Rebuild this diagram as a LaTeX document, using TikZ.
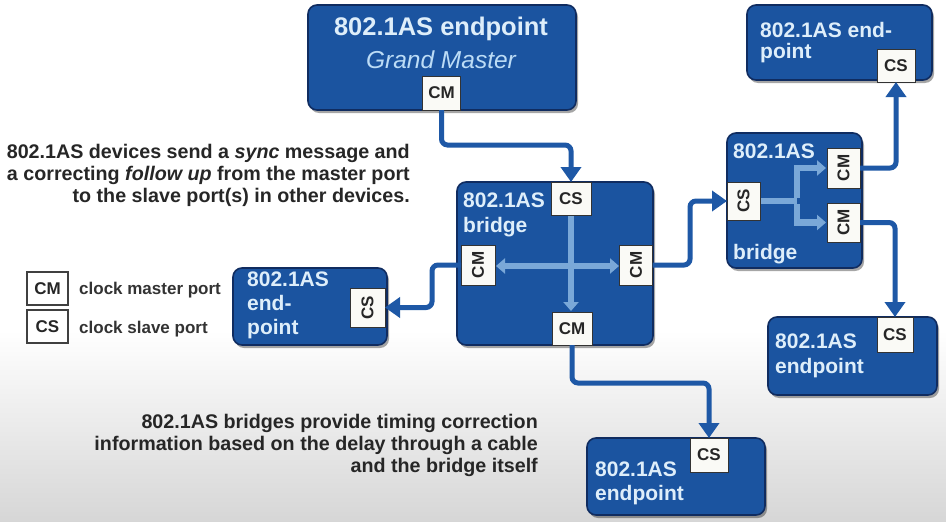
\documentclass[tikz,border=0pt]{standalone}
\usepackage{fontspec}
\setmainfont{Liberation Sans}
\usetikzlibrary{arrows.meta,shadows}
\definecolor{boxblue}{RGB}{27,84,160}
\definecolor{boxedge}{RGB}{16,44,96}
\definecolor{txtlight}{RGB}{222,238,250}
\definecolor{gmital}{RGB}{188,220,246}
\definecolor{connblue}{RGB}{30,88,166}
\definecolor{lightarr}{RGB}{122,168,216}
\definecolor{portwhite}{RGB}{250,250,246}
\newcommand\myfs[2]{\fontsize{#1}{#2}\selectfont}
\tikzset{
  ebox/.style={draw=boxedge, line width=1.6pt, fill=boxblue, rounded corners=9pt,
    inner sep=0pt, outer sep=0pt,
    drop shadow={shadow xshift=2pt, shadow yshift=-3pt, opacity=0.35, fill=black}},
  port/.style={draw=black!80, line width=0.8pt, fill=portwhite, inner sep=0pt, outer sep=0pt,
    font=\myfs{17}{17}\bfseries, text=black!85},
  legbox/.style={draw=black!75, line width=1.3pt, fill=white, inner sep=0pt, outer sep=0pt,
    font=\myfs{17}{17}\bfseries, text=black!85, minimum width=41pt, minimum height=33pt},
  boxtxt/.style={anchor=base west, inner sep=0pt, text=txtlight, font=\myfs{21}{24}\bfseries},
  note/.style={anchor=base east, inner sep=0pt, text=black!85, font=\myfs{19.7}{22}\bfseries},
  legtxt/.style={anchor=base west, inner sep=0pt, text=black!80, font=\myfs{17}{18}\bfseries},
  conn/.style={draw=connblue, line width=5pt, rounded corners=6pt,
    -{Triangle[length=15pt,width=20pt]}},
  inarr/.style={draw=lightarr, line width=6.5pt},
  intip/.style={-{Triangle[length=9pt,width=15pt]}}
}
\begin{document}
\begin{tikzpicture}[x=1pt,y=-1pt]
\useasboundingbox (0,0) rectangle (946,522);
\fill[white] (0,0) rectangle (946,522);
\shade[top color=white, bottom color=black!16] (0,330) rectangle (946,522);

% boxes
\node[ebox, minimum width=268pt, minimum height=105pt] (gm) at (442,57.5) {};
\node[ebox, minimum width=196pt, minimum height=163pt] (br) at (555,263.5) {};
\node[ebox, minimum width=135pt, minimum height=135pt] (rb) at (794.5,200.5) {};
\node[ebox, minimum width=185pt, minimum height=75pt] (tr) at (839.5,42.5) {};
\node[ebox, minimum width=154pt, minimum height=77pt] (le) at (310,306.5) {};
\node[ebox, minimum width=178pt, minimum height=77pt] (be) at (676,476.5) {};
\node[ebox, minimum width=169pt, minimum height=78pt] (bre) at (852.5,356) {};

% internal light arrows
\draw[inarr, {Triangle[length=9pt,width=15pt]}-{Triangle[length=9pt,width=15pt]}] (496,266) -- (619,266);
\draw[inarr, intip] (571,215) -- (571,311);
\coordinate (rj) at (797,201);
\draw[inarr] (760,201) -- (rj);
\draw[inarr, intip] ([yshift=3.25pt]rj) |- (826,168);
\draw[inarr, intip] ([yshift=-3.25pt]rj) |- (826,222.5);

% ports
\node[port, minimum width=38pt, minimum height=34pt] (gmcm) at (441.5,93) {CM};
\node[port, minimum width=40pt, minimum height=33pt] (bcs) at (571,198.5) {CS};
\node[port, minimum width=34pt, minimum height=40pt] (blcm) at (478,265) {\rotatebox{90}{CM}};
\node[port, minimum width=33pt, minimum height=40pt] (brcm) at (636,265) {\rotatebox{90}{CM}};
\node[port, minimum width=40pt, minimum height=33pt] (bbcm) at (572,328.5) {CM};
\node[port, minimum width=33pt, minimum height=38pt] (rcs) at (743.5,201) {\rotatebox{90}{CS}};
\node[port, minimum width=33pt, minimum height=40pt] (rcm1) at (843.5,168) {\rotatebox{90}{CM}};
\node[port, minimum width=33pt, minimum height=39pt] (rcm2) at (843.5,222.5) {\rotatebox{90}{CM}};
\node[port, minimum width=38pt, minimum height=33pt] (trcs) at (896,65.5) {CS};
\node[port, minimum width=35pt, minimum height=39pt] (lcs) at (367.5,307.5) {\rotatebox{90}{CS}};
\node[port, minimum width=38pt, minimum height=34pt] (becs) at (709,455) {CS};
\node[port, minimum width=36pt, minimum height=35pt] (brcs) at (895,334.5) {CS};

% box texts
\node[anchor=base, inner sep=0pt, text=txtlight, font=\myfs{25.5}{28}\bfseries] (gmt1) at (441,35) {802.1AS endpoint};
\node[anchor=base, inner sep=0pt, text=gmital, font=\myfs{24.5}{26}\itshape] (gmt2) at (441,68) {Grand Master};
\node[boxtxt] (brt1) at (463,207) {802.1AS};
\node[boxtxt] (brt2) at (463,232) {bridge};
\node[boxtxt] (rbt1) at (733,158) {802.1AS};
\node[boxtxt] (rbt2) at (733,259) {bridge};
\node[boxtxt] (trt1) at (760,37) {802.1AS end-};
\node[boxtxt] (trt2) at (760,58) {point};
\node[boxtxt] (let1) at (247,286) {802.1AS};
\node[boxtxt] (let2) at (247,310) {end-};
\node[boxtxt] (let3) at (247,334) {point};
\node[boxtxt] (bet1) at (595,476) {802.1AS};
\node[boxtxt] (bet2) at (595,500) {endpoint};
\node[boxtxt] (bret1) at (775,348) {802.1AS};
\node[boxtxt] (bret2) at (775,373) {endpoint};

% legend
\node[legbox] (lgcm) at (47.5,288.5) {CM};
\node[legbox] (lgcs) at (47.5,326.5) {CS};
\node[legtxt] (lgt1) at (79,294) {clock master port};
\node[legtxt] (lgt2) at (79,333) {clock slave port};

% notes
\node[note] (n1a) at (410,158) {802.1AS devices send a \textit{sync} message and};
\node[note] (n1b) at (410,180) {a correcting \textit{follow up} from the master port};
\node[note] (n1c) at (410,202) {to the slave port(s) in other devices.};
\node[note] (n2a) at (538,428) {802.1AS bridges provide timing correction};
\node[note] (n2b) at (538,450) {information based on the delay through a cable};
\node[note] (n2c) at (538,472) {and the bridge itself};

% connectors
\draw[conn] (gmcm.south) -- (441.5,145) -| (bcs.north);
\draw[conn] (blcm.west) -- (432,265) |- (lcs.east);
\draw[conn] (brcm.east) -- (690,265) |- (rcs.west);
\draw[conn] (bbcm.south) -- (572,383) -| (becs.north);
\draw[conn] (rcm1.east) -| (trcs.south);
\draw[conn] (rcm2.east) -| (brcs.north);
\end{tikzpicture}
\end{document}
